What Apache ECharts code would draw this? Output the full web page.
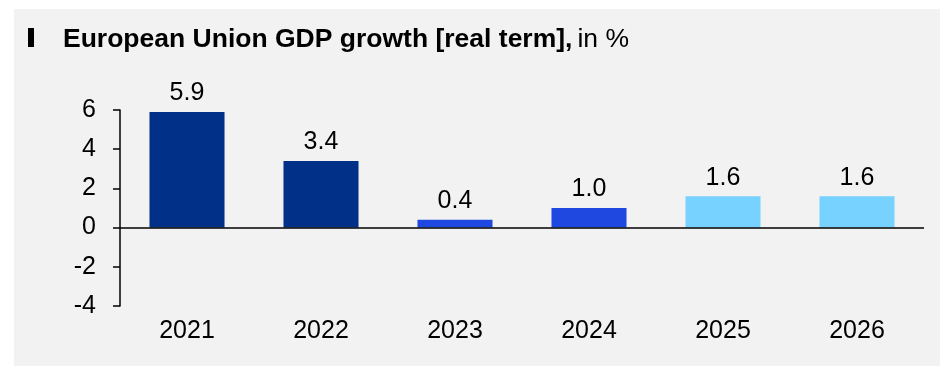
<!DOCTYPE html>
<html><head><meta charset="utf-8">
<script src="https://cdn.jsdelivr.net/npm/echarts@6/dist/echarts.min.js"></script>
<style>
html,body{margin:0;padding:0;background:#fff;}
#bg{position:absolute;left:14px;top:9px;width:926px;height:357px;background:#f2f2f2;}
#chart{position:absolute;left:0;top:0;width:940px;height:366px;}
</style></head>
<body>
<div id="bg"></div>
<div id="chart"></div>
<script>
const categories = ['2021','2022','2023','2024','2025','2026'];
const values = [5.9, 3.4, 0.4, 1.0, 1.6, 1.6];
const barColors = ['#003087','#003087','#1f48e0','#1f48e0','#78d2ff','#78d2ff'];
const yTicks = {min: -4, max: 6, interval: 2};

const chart = echarts.init(document.getElementById('chart'), null, {renderer:'canvas'});
const font = 'Liberation Sans, Arial, sans-serif';
chart.setOption({
  backgroundColor: 'transparent',
  animation: false,
  title: {
    left: 63, top: 26, padding: 0,
    text: '{b|European Union GDP growth [real term],} {n|in %}',
    textStyle: {
      rich: {
        b: {fontFamily: font, fontWeight: 'bold', fontSize: 26.5, color: '#000'},
        n: {fontFamily: font, fontWeight: 'normal', fontSize: 26.5, color: '#000'}
      }
    }
  },
  graphic: [{type:'rect', shape:{x:28, y:28, width:6, height:19}, style:{fill:'#000'}}],
  grid: {left: 120, right: 16, top: 110, bottom: 60},
  xAxis: {
    type: 'category', data: categories,
    axisLine: {show: false, onZero: false},
    axisTick: {show: false},
    axisLabel: {fontFamily: font, fontSize: 25, color: '#000', margin: 13}
  },
  yAxis: {
    type: 'value', min: yTicks.min, max: yTicks.max, interval: yTicks.interval,
    axisLine: {show: true, lineStyle: {color: '#000', width: 1.5}},
    axisTick: {show: true, length: 7, lineStyle: {color: '#000', width: 1.5}},
    splitLine: {show: false},
    axisLabel: {fontFamily: font, fontSize: 25, color: '#000', margin: 24}
  },
  series: [{
    type: 'bar',
    data: values.map((v,i)=>({value: v, itemStyle: {color: barColors[i]}})),
    barWidth: '56%',
    label: {show: true, position: 'top', distance: 6, fontFamily: font, fontSize: 25, color: '#000',
      formatter: p => p.value.toFixed(1)},
    markLine: {
      silent: true, symbol: 'none', label: {show: false},
      lineStyle: {color: '#000', width: 1.5, type: 'solid'},
      data: [{yAxis: 0}]
    }
  }]
});
</script>
</body></html>
